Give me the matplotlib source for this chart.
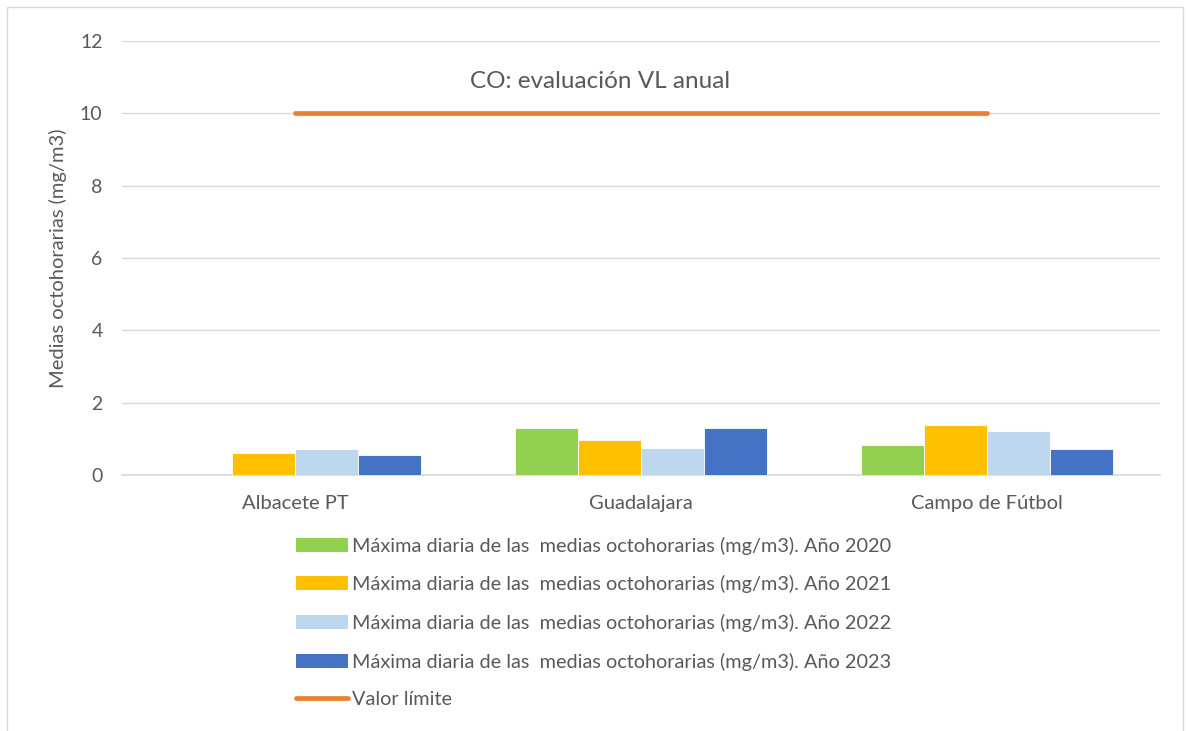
import numpy as np
import matplotlib.pyplot as plt
from matplotlib.patches import Patch, Rectangle
from matplotlib.lines import Line2D

plt.rcParams['font.family'] = ['Lato', 'DejaVu Sans']

estaciones = ["Albacete PT", "Guadalajara", "Campo de Fútbol"]
anios = ["2020", "2021", "2022", "2023"]
max_2020 = [np.nan, 1.30, 0.82]
max_2021 = [0.62, 0.98, 1.39]
max_2022 = [0.71, 0.75, 1.21]
max_2023 = [0.57, 1.29, 0.73]
valor_limite = [10, 10, 10]

series = [max_2020, max_2021, max_2022, max_2023]
colores = ["#92D050", "#FFC000", "#BDD7EE", "#4472C4"]
gris = "#595959"

fig = plt.figure(figsize=(11.88, 7.31), dpi=100)
ax = fig.add_axes([0.1027, 0.350, 0.8737, 0.594])

x = np.arange(len(estaciones))
w = 0.182
for i, vals in enumerate(series):
    ax.bar(x + (i - 1.5) * w, vals, w, color=colores[i], edgecolor="white",
           linewidth=0.6, zorder=3)
ax.plot(x, valor_limite, color="#ED7D31", lw=3.4, solid_capstyle="round", zorder=4)

ax.set_xlim(-0.5, 2.5)
ax.set_ylim(0, 12)
ax.set_yticks(range(0, 13, 2))
ax.set_xticks(x)
ax.set_xticklabels(estaciones, fontsize=14.5)
ax.grid(axis="y", color="#D9D9D9", lw=1, zorder=0)
for s in ["top", "right", "left"]:
    ax.spines[s].set_visible(False)
ax.spines["bottom"].set_color("#D9D9D9")
ax.spines["bottom"].set_linewidth(1.2)
ax.tick_params(length=0, colors=gris)
ax.tick_params(axis="y", labelsize=14, pad=14)
ax.tick_params(axis="x", pad=14)
ax.set_ylabel("Medias octohorarias (mg/m3)", color=gris, fontsize=14.5, labelpad=9)

# titulo dentro del area del grafico
fig.text(0.505, 0.888, "CO: evaluación VL anual", ha="center", va="center",
         color=gris, fontsize=17.5)

handles = [Patch(facecolor=c, edgecolor="none") for c in colores]
labels = ["Máxima diaria de las  medias octohorarias (mg/m3). Año " + a for a in anios]
handles.append(Line2D([0], [0], color="#ED7D31", lw=3.4, solid_capstyle="round"))
labels.append("Valor límite")
leg = fig.legend(handles, labels, loc="upper left", bbox_to_anchor=(0.2424, 0.277),
                 frameon=False, fontsize=14.3, labelcolor=gris, handlelength=2.6,
                 handleheight=0.7, handletextpad=0.2, labelspacing=1.04,
                 borderaxespad=0)

fig.patches.append(Rectangle((0.006, -0.01), 0.99, 1.0, transform=fig.transFigure,
                             fill=False, edgecolor="#D9D9D9", lw=1))

fig.savefig("out.png", dpi=100)
